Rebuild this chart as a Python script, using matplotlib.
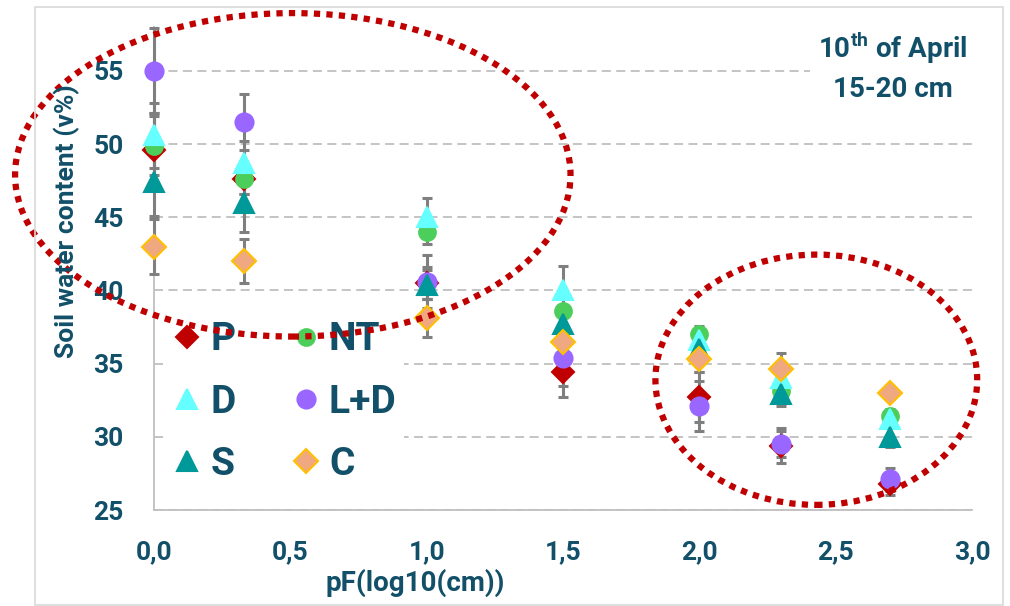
import matplotlib
matplotlib.use("Agg")
import matplotlib.pyplot as plt
from matplotlib.patches import Ellipse, Rectangle

plt.rcParams['font.family'] = ['Roboto', 'DejaVu Sans']
plt.rcParams['font.weight'] = 'bold'
plt.rcParams['mathtext.fontset'] = 'custom'
plt.rcParams['mathtext.rm'] = 'Roboto:bold'
plt.rcParams['mathtext.it'] = 'Roboto:bold'
plt.rcParams['mathtext.bf'] = 'Roboto:bold'

pf = [0.0, 0.33, 1.0, 1.5, 2.0, 2.3, 2.7]

p_val = [49.6, 47.6, 40.5, 34.4, 32.7, 29.4, 26.8]
p_err = [2.5, 1.0, 1.1, 1.7, 1.7, 1.2, 0.8]
nt_val = [49.9, 47.6, 44.0, 38.6, 37.0, 33.1, 31.4]
nt_err = [2.0, 1.0, 0.8, 1.0, 0.6, 0.8, 0.5]
d_val = [50.6, 48.7, 45.0, 40.0, 36.6, 34.0, 31.2]
d_err = [2.2, 1.5, 1.3, 1.7, 0.8, 0.8, 0.5]
ld_val = [55.0, 51.5, 40.6, 35.4, 32.1, 29.5, 27.1]
ld_err = [2.9, 1.9, 1.8, 1.9, 1.7, 0.9, 0.8]
s_val = [47.4, 46.0, 40.4, 37.7, 36.0, 32.9, 30.0]
s_err = [2.3, 2.0, 1.0, 1.0, 0.8, 0.8, 0.7]
c_val = [43.0, 42.0, 38.1, 36.5, 35.3, 34.6, 33.0]
c_err = [1.9, 1.5, 1.3, 1.0, 0.9, 1.1, 0.4]

labels = ['P', 'NT', 'D', 'L+D', 'S', 'C']
values = [p_val, nt_val, d_val, ld_val, s_val, c_val]
errors = [p_err, nt_err, d_err, ld_err, s_err, c_err]
markers = ['D', 'o', '^', 'o', '^', 'D']
sizes = [11, 12, 15, 13, 14, 12]
faces = ['#C00000', '#4CCF5A', '#66FFFF', '#9966FF', '#009999', '#F0A880']
edges = ['#C00000', '#4CCF5A', '#66FFFF', '#9966FF', '#009999', '#FFC000']

txt = '#125069'

fig = plt.figure(figsize=(10.1, 6.06), dpi=100)
ax = fig.add_axes([154/1010, 96/606, 818/1010, 483/606])

for i in range(6):
    ax.errorbar(pf, values[i], yerr=errors[i], fmt='none', ecolor='#7F7F7F',
                elinewidth=2.2, capsize=3.5, capthick=2.2, zorder=3, clip_on=False)

handles = []
for i in range(6):
    h, = ax.plot(pf, values[i], linestyle='none', marker=markers[i], ms=sizes[i],
                 mfc=faces[i], mec=edges[i], mew=1.5, zorder=4 + i, clip_on=False,
                 label=labels[i])
    handles.append(h)

ax.set_xlim(0, 3.0)
ax.set_ylim(25, 58)
ax.set_xticks([0, 0.5, 1.0, 1.5, 2.0, 2.5, 3.0])
ax.set_xticklabels(['0,0', '0,5', '1,0', '1,5', '2,0', '2,5', '3,0'])
ax.set_yticks([25, 30, 35, 40, 45, 50, 55])
ax.tick_params(length=0, labelsize=19, labelcolor=txt, pad=22)
for lab in ax.get_xticklabels() + ax.get_yticklabels():
    lab.set_fontweight('bold')

ax.grid(axis='y', color='#BFBFBF', linestyle=(0, (5, 3)), linewidth=1.3)
ax.set_axisbelow(True)
for side in ['top', 'right']:
    ax.spines[side].set_visible(False)
for side in ['left', 'bottom']:
    ax.spines[side].set_color('#BFBFBF')
    ax.spines[side].set_linewidth(1.3)

order = [0, 2, 4, 1, 3, 5]
leg = ax.legend([handles[k] for k in order], [labels[k] for k in order], ncol=2,
                loc='upper left', bbox_to_anchor=(-0.012, 0.447), frameon=True,
                facecolor='white', edgecolor='none', framealpha=1,
                prop={'size': 28, 'weight': 'bold'}, labelcolor=txt,
                handletextpad=0.2, columnspacing=1.4, labelspacing=0.65,
                handlelength=0.8, borderpad=0.2, fancybox=False)
leg.set_zorder(2)

# dotted highlight ellipses
ax.add_patch(Ellipse((0.509, 47.9), 2.037, 22.1, fill=False, edgecolor='#C00000',
                     linewidth=4.5, linestyle=(0, (1, 1)), clip_on=False, zorder=20))
ax.add_patch(Ellipse((2.429, 33.9), 1.18, 17.1, fill=False, edgecolor='#C00000',
                     linewidth=4.5, linestyle=(0, (1, 1)), clip_on=False, zorder=20))

fig.text(893/1010, 1 - 67/606, '10$^{\\mathrm{th}}$ of April\n15-20 cm', ha='center',
         va='center', fontsize=20, color=txt, fontweight='bold', linespacing=1.45,
         bbox=dict(facecolor='white', edgecolor='none', pad=6))

fig.text(67/1010, 1 - 221/606, 'Soil water content (v%)', rotation=90, ha='center',
         va='center', fontsize=19, color=txt, fontweight='bold')
fig.text(415/1010, 1 - 583/606, 'pF(log10(cm))', ha='center', va='center',
         fontsize=20, color=txt, fontweight='bold')

fig.patches.append(Rectangle((35/1010, 1/606), 968/1010, 598/606, fill=False,
                             edgecolor='#D9D9D9', linewidth=1.2,
                             transform=fig.transFigure, figure=fig))

fig.savefig('out.png', dpi=100)
